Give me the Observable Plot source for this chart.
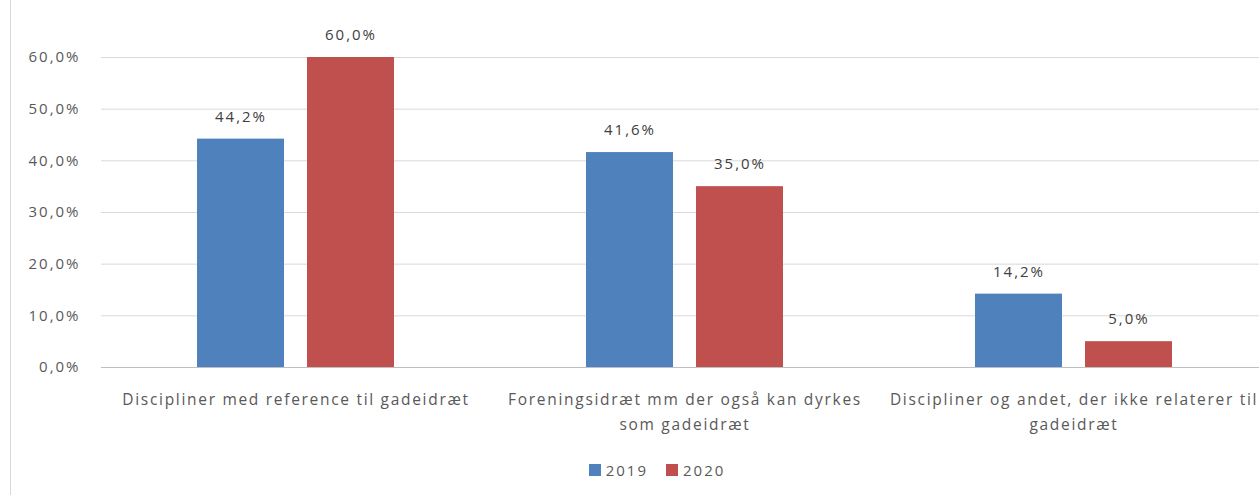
<!DOCTYPE html>
<html>
<head>
<meta charset="utf-8">
<script src="https://cdn.jsdelivr.net/npm/d3@7"></script>
<script src="https://cdn.jsdelivr.net/npm/@observablehq/plot@0.6"></script>
<style>
  html, body { margin: 0; padding: 0; background: #fff; overflow: hidden; }
  #wrap { position: relative; width: 1259px; height: 495px; overflow: hidden; }
  #border { position: absolute; left: 10px; top: 0; width: 1px; height: 495px; background: #d9d9d9; }
  #chart { position: absolute; left: 0; top: 0; width: 1268px; }
  #chart svg { max-width: none !important; }
  #chart svg text { letter-spacing: 2px; }
  #chart svg g[aria-label="fx-axis tick label"] text { letter-spacing: 1.7px; }
  #legend { position: absolute; top: 460px; left: 0; width: 1314px; display: flex; justify-content: center; gap: 18px;
    font-family: "Open Sans", sans-serif; font-size: 15px; color: #595959; letter-spacing: 2px; }
  .item { display: flex; align-items: center; gap: 5px; }
  .sw { width: 12px; height: 12px; display: inline-block; }
</style>
</head>
<body>
<div id="wrap">
  <div id="border"></div>
  <div id="chart"></div>
  <div id="legend"></div>
</div>
<script>
const categories = [
  "Discipliner med reference til gadeidræt",
  "Foreningsidræt mm der også kan dyrkes\nsom gadeidræt",
  "Discipliner og andet, der ikke relaterer til\ngadeidræt"
];
const years = ["2019", "2020"];
const values2019 = [44.2, 41.6, 14.2];
const values2020 = [60.0, 35.0, 5.0];
const yTicks = [0, 10, 20, 30, 40, 50, 60];
const colors = ["#4F81BD", "#C0504D"];

const rows = [];
categories.forEach((c, i) => {
  rows.push({category: c, year: years[0], value: values2019[i]});
  rows.push({category: c, year: years[1], value: values2020[i]});
});

const fmt = d => d.toFixed(1).replace(".", ",") + "%";

const chart = Plot.plot({
  width: 1268,
  height: 450,
  marginLeft: 101,
  marginRight: 0,
  marginTop: 57,
  marginBottom: 83,
  style: {fontFamily: "'Open Sans', sans-serif", background: "transparent", maxWidth: "none"},
  fx: {domain: categories, paddingInner: 0, paddingOuter: 0, label: null},
  x: {domain: years, paddingInner: 0.207, paddingOuter: 0.856, axis: null},
  y: {domain: [0, 60], ticks: yTicks, label: null},
  color: {domain: years, range: colors},
  marks: [
    Plot.gridY(yTicks, {stroke: "#d9d9d9", strokeOpacity: 1}),
    Plot.ruleY([0], {stroke: "#bfbfbf"}),
    Plot.barY(rows, {fx: "category", x: "year", y: "value", fill: "year"}),
    Plot.text(rows, {fx: "category", x: "year", y: "value", text: d => fmt(d.value), dy: -22,
      fill: "#404040", fontSize: 15}),
    Plot.axisY(yTicks, {tickFormat: fmt, tickSize: 0, tickPadding: 21, fontSize: 15, fill: "#595959", label: null}),
    Plot.axisFx({anchor: "bottom", tickSize: 0, tickPadding: 20, fontSize: 15.5, fill: "#595959", label: null, lineHeight: 1.6, textAnchor: "middle"})
  ]
});
document.getElementById("chart").appendChild(chart);

const legend = document.getElementById("legend");
years.forEach((y, i) => {
  const it = document.createElement("div");
  it.className = "item";
  it.innerHTML = `<span class="sw" style="background:${colors[i]}"></span><span>${y}</span>`;
  legend.appendChild(it);
});
</script>
</body>
</html>
